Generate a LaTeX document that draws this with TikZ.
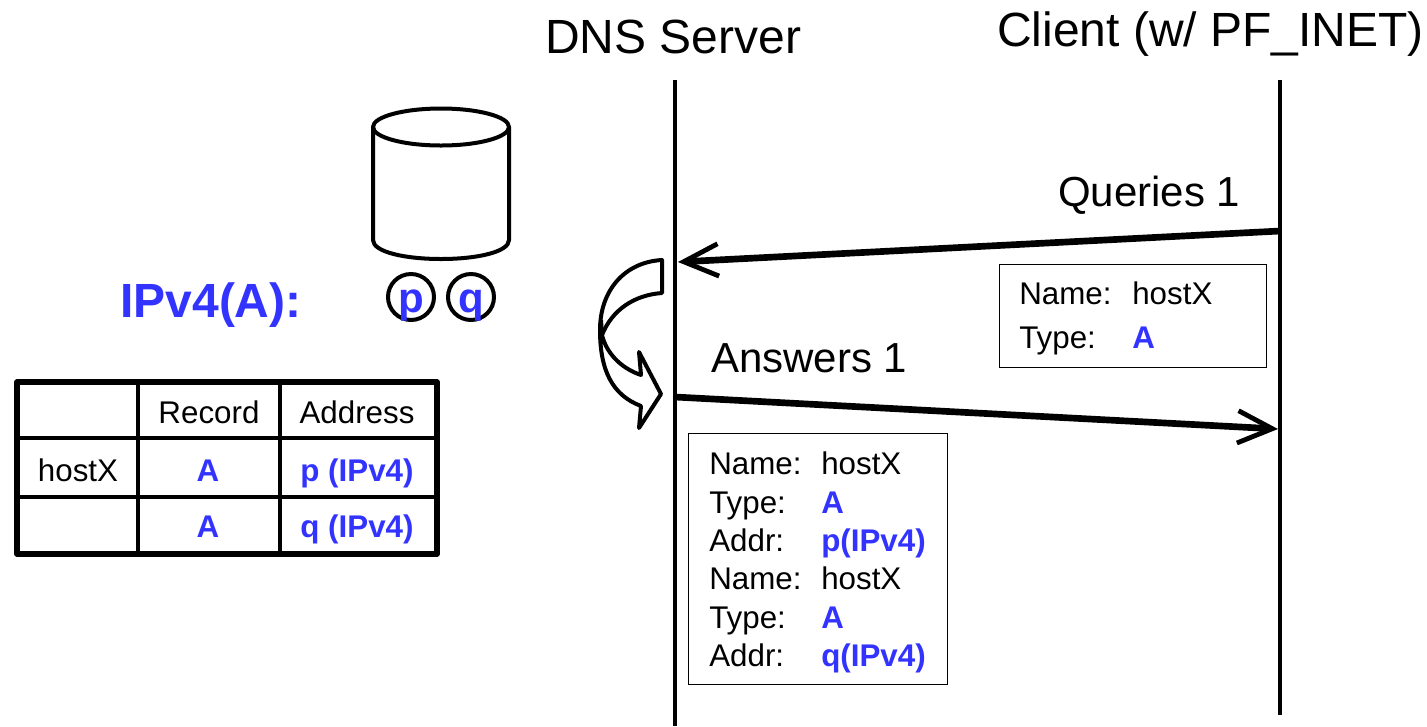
\documentclass[tikz,border=0pt]{standalone}
\usepackage{fontspec}
\setmainfont{Liberation Sans}
\usetikzlibrary{arrows.meta}
\definecolor{ablue}{RGB}{51,51,255}
\newcommand{\fs}[1]{\fontsize{#1}{#1}\selectfont}
\tikzset{
  x=0.75pt,y=-0.75pt,
  life/.style={line width=3pt},
  msg/.style={line width=5pt,-{Straight Barb[length=26pt,width=26pt,line width=3.6pt,angle'=50]}},
  big/.style={font=\fs{36},inner sep=0pt,anchor=base west},
  mid/.style={font=\fs{31.5},inner sep=0pt,anchor=base west},
  txt/.style={font=\fs{23.5},inner sep=0pt,anchor=base west},
  btxt/.style={font=\fs{23.5}\bfseries,text=ablue,inner sep=0pt,anchor=base west},
  ctxt/.style={font=\fs{23.5},inner sep=0pt,anchor=base},
  cbtxt/.style={font=\fs{23.5}\bfseries,text=ablue,inner sep=0pt,anchor=base},
  infobox/.style={draw,line width=1pt},
  shape3/.style={line width=3pt,line join=round},
}
\begin{document}
\begin{tikzpicture}
\useasboundingbox (0,0) rectangle (1427,726);
% lifelines
\coordinate (dnsT) at (675,80); \coordinate (dnsB) at (675,726);
\coordinate (cliT) at (1280,80); \coordinate (cliB) at (1280,715);
\draw[life] (dnsT) -- (dnsB);
\draw[life] (cliT) -- (cliB);
\node[big] (dns) at (545,53) {DNS Server};
\node[big] (cli) at (997,46) {Client (w/ PF\_INET)};
% messages
\coordinate (qS) at (1280,231); \coordinate (qE) at (678,262);
\coordinate (aS) at (675,397); \coordinate (aE) at (1278,429);
\draw[msg] (qS) -- (qE);
\draw[msg] (aS) -- (aE);
\node[mid] (qlab) at (1058,206) {Queries 1};
\node[mid] (alab) at (711,372) {Answers 1};
% boxes
\node[infobox,minimum width=200.25pt,minimum height=77.25pt,inner sep=0pt,anchor=north west] (qbox) at (999,264) {};
\node[txt] (q1) at (1019,304) {Name:};
\node[txt] (q2) at (1132,304) {hostX};
\node[txt] (q3) at (1019,348) {Type:};
\node[btxt] (q4) at (1132,348) {A};
\node[infobox,minimum width=194.25pt,minimum height=188.25pt,inner sep=0pt,anchor=north west] (abox) at (688,433) {};
\node[txt] (a1) at (709,474) {Name:};
\node[txt] (a2) at (821,474) {hostX};
\node[txt] (a3) at (709,513) {Type:};
\node[btxt] (a4) at (821,513) {A};
\node[txt] (a5) at (709,551) {Addr:};
\node[btxt] (a6) at (821,551) {p(IPv4)};
\node[txt] (a7) at (709,589) {Name:};
\node[txt] (a8) at (821,589) {hostX};
\node[txt] (a9) at (709,628) {Type:};
\node[btxt] (a10) at (821,628) {A};
\node[txt] (a11) at (709,666) {Addr:};
\node[btxt] (a12) at (821,666) {q(IPv4)};
% curved arrow
\draw[shape3,fill=white]
  (662,260) -- (662,293)
  .. controls (634,295) and (612,310) .. (602,335)
  .. controls (606,352) and (620,368) .. (641,375)
  -- (639,352) -- (661,394) -- (639,428) -- (641,406)
  .. controls (612,395) and (600,370) .. (600,330)
  .. controls (600,290) and (625,262) .. (662,260) -- cycle;
\draw[shape3] (602,335) -- (601,320);
% database
\draw[shape3] (373,127) -- (373,240)
  .. controls (373,252) and (405,259) .. (441,259)
  .. controls (477,259) and (509,252) .. (509,240) -- (509,127);
\draw[shape3] (441,127) ellipse [x radius=68,y radius=18.5];
\node[font=\fs{36}\bfseries,text=ablue,inner sep=0pt,anchor=base west] (ipv) at (120,317) {IPv4(A):};
\draw[shape3] (411,297) circle [radius=23];
\draw[shape3] (471,297) circle [radius=23];
\node[font=\fs{31.5}\bfseries,text=ablue,inner sep=0pt,anchor=base] (p) at (411,312) {p};
\node[font=\fs{31.5}\bfseries,text=ablue,inner sep=0pt,anchor=base] (q) at (471,312) {q};
% table
\draw[line width=3pt] (138,382) -- (138,554);
\draw[line width=3pt] (280,382) -- (280,554);
\draw[line width=3.5pt] (17,438) -- (437,438);
\draw[line width=2.5pt] (17,497) -- (437,497);
\draw[line width=4pt,line join=round] (17,382) rectangle (437,554);
\node[ctxt] (t1) at (209,423) {Record};
\node[ctxt] (t2) at (357,423) {Address};
\node[ctxt] (t3) at (78,481) {hostX};
\node[cbtxt] (t4) at (208,481) {A};
\node[cbtxt] (t5) at (357,481) {p (IPv4)};
\node[cbtxt] (t6) at (208,537) {A};
\node[cbtxt] (t7) at (357,537) {q (IPv4)};
\end{tikzpicture}
\end{document}
